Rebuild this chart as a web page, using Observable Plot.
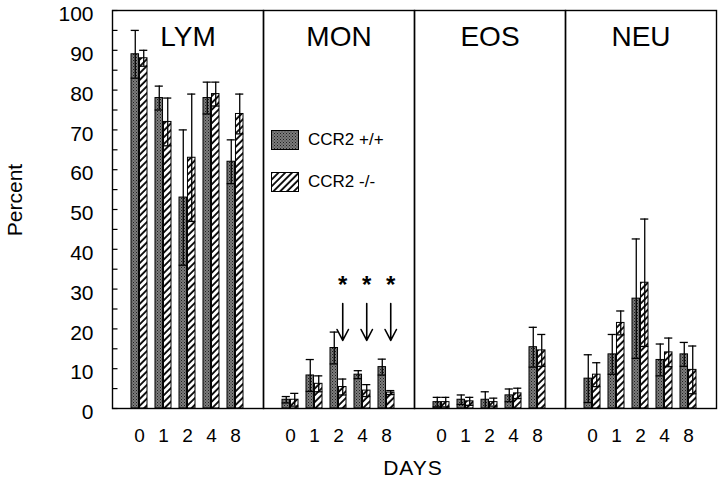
<!DOCTYPE html>
<html><head><meta charset="utf-8">
<script src="https://cdn.jsdelivr.net/npm/d3@7"></script>
<script src="https://cdn.jsdelivr.net/npm/@observablehq/plot@0.6"></script>
<style>
body{margin:0;background:#fff;font-family:"Liberation Sans",Arial,Helvetica,sans-serif;color:#000}
#wrap{position:relative;width:720px;height:483px}
.ov{position:absolute;white-space:nowrap;line-height:1}
.leg{position:absolute;display:flex;align-items:center;font-size:17px}
.leg svg{margin-right:9px}
</style></head><body>
<svg width="0" height="0" style="position:absolute">
<defs>
<pattern id="dots" width="3" height="3" patternUnits="userSpaceOnUse">
<rect width="3" height="3" fill="#7c7c7c"/>
<rect x="0" y="0" width="1" height="1" fill="#1e1e1e"/>
<rect x="1.5" y="1.5" width="1" height="1" fill="#2e2e2e"/>
</pattern>
<pattern id="hatch" width="4.8" height="4.8" patternUnits="userSpaceOnUse" patternTransform="rotate(45)">
<rect width="4.8" height="4.8" fill="#fff"/>
<line x1="1" y1="0" x2="1" y2="4.8" stroke="#000" stroke-width="1.8"/>
</pattern>
</defs>
</svg>
<div id="wrap"></div>
<script>
const cells = ["LYM","MON","EOS","NEU"];
const days = ["0","1","2","4","8"];
const genotypes = ["CCR2 +/+","CCR2 -/-"];
const yLabelTicks = d3.range(0, 101, 10);
const yMinorTicks = d3.range(0, 101, 5);

// mean percent and SD, CCR2 +/+ (wt) and CCR2 -/- (ko)
const lymWt = [89,78,53,78,62];      const lymWtSd = [6,3,17,4,5.5];
const lymKo = [88,72,63,79,74];      const lymKoSd = [2,6,16,3,5];
const monWt = [2.2,8.3,15.2,8.5,10.4]; const monWtSd = [0.8,4,4,1,2];
const monKo = [2.2,6.2,5.4,4.5,4];   const monKoSd = [1.6,2,2,1.5,0.5];
const eosWt = [1.6,2.2,2.2,3.3,15.4]; const eosWtSd = [1.2,1.2,2,1.6,5];
const eosKo = [1.6,1.8,1.6,3.8,14.6]; const eosKoSd = [1.2,1,1,1.3,4];
const neuWt = [7.5,13.6,27.6,12.2,13.6]; const neuWtSd = [6,5,15,4,3];
const neuKo = [8.5,21.5,31.6,14.1,9.7];  const neuKoSd = [3,3,16,3.6,6];

// significant differences (MON, CCR2 -/-)
const sigCell = "MON";
const sigDays = ["2","4","8"];
const arrowFrom = 26.4, arrowTo = 17.1, starAt = 31;

const series = {
  LYM: [lymWt, lymWtSd, lymKo, lymKoSd],
  MON: [monWt, monWtSd, monKo, monKoSd],
  EOS: [eosWt, eosWtSd, eosKo, eosKoSd],
  NEU: [neuWt, neuWtSd, neuKo, neuKoSd]
};
const rows = [];
for (const c of cells) {
  const [w, ws, k, ks] = series[c];
  days.forEach((d, i) => {
    rows.push({cell: c, day: d, geno: genotypes[0], mean: w[i], sd: ws[i]});
    rows.push({cell: c, day: d, geno: genotypes[1], mean: k[i], sd: ks[i]});
  });
}
const wt = rows.filter(r => r.geno === genotypes[0]);
const ko = rows.filter(r => r.geno === genotypes[1]);

// layout
const W = 720, H = 483, mL = 111, mR = 3, mT = 10, mB = 75;
const pIn = 0.32, pOut = 0.7;
const facetW = (W - mL - mR) / cells.length;
const step = facetW / (days.length - pIn + 2 * pOut);
const bw = step * (1 - pIn);
const half = bw / 2, q = bw / 4;
const lo = r => Math.max(0, r.mean - r.sd), hi = r => r.mean + r.sd;

const errMarks = (data, side) => {
  const dx = side * q;
  const ins = side < 0 ? {insetLeft: -0.3, insetRight: half - 0.3} : {insetLeft: half - 0.3, insetRight: -0.3};
  return [
    Plot.ruleX(data, {fx: "cell", x: "day", y1: lo, y2: hi, dx, stroke: "#000", strokeWidth: 1.3}),
    Plot.tickY(data, {fx: "cell", x: "day", y: hi, ...ins, stroke: "#000", strokeWidth: 1.3}),
    Plot.tickY(data.filter(r => r.mean - r.sd > 0.3), {fx: "cell", x: "day", y: lo, ...ins, stroke: "#000", strokeWidth: 1.3})
  ];
};

const plot = Plot.plot({
  width: W, height: H,
  marginLeft: mL, marginRight: mR, marginTop: mT, marginBottom: mB,
  style: {fontFamily: "'Liberation Sans', Arial, Helvetica, sans-serif", color: "#000", background: "transparent", overflow: "visible"},
  fx: {domain: cells, padding: 0, axis: null},
  x: {domain: days, paddingInner: pIn, paddingOuter: pOut, align: 0.5},
  y: {domain: [0, 100]},
  marks: [
    Plot.barY(wt, {fx: "cell", x: "day", y: "mean", fill: "url(#dots)", stroke: "#000", strokeWidth: 1, insetRight: half}),
    Plot.barY(ko, {fx: "cell", x: "day", y: "mean", fill: "url(#hatch)", stroke: "#000", strokeWidth: 1, insetLeft: half}),
    ...errMarks(wt, -1),
    ...errMarks(ko, 1),
    Plot.tickY(yMinorTicks, {fx: () => cells[0], y: d => d, insetRight: facetW - 6, stroke: "#000", strokeWidth: 1.2}),
    Plot.frame({stroke: "#000", strokeWidth: 1.4}),
    Plot.axisY({ticks: yLabelTicks, tickSize: 0, tickPadding: 19, fontSize: 21, dy: 4, label: null}),
    Plot.axisX({tickSize: 0, tickPadding: 20, fontSize: 19, label: null}),
    Plot.text(cells, {fx: d => d, text: d => d, frameAnchor: "top", dy: 27, lineAnchor: "middle", fontSize: 28}),
    Plot.arrow(sigDays, {fx: () => sigCell, x1: d => d, x2: d => d, y1: () => arrowFrom, y2: () => arrowTo, dx: q, stroke: "#000", strokeWidth: 1.6, headLength: 13, headAngle: 55, bend: false}),
    Plot.text(sigDays, {fx: () => sigCell, x: d => d, y: () => starAt, dx: q, text: () => "*", fontSize: 24, fontWeight: "bold"})
  ]
});
const wrap = document.getElementById("wrap");
wrap.appendChild(plot);

function addText(txt, css) {
  const d = document.createElement("div");
  d.className = "ov"; d.textContent = txt;
  Object.assign(d.style, css);
  wrap.appendChild(d);
}
addText("Percent", {left: "14px", top: "200px", fontSize: "21px", transform: "translate(-50%,-50%) rotate(-90deg)"});
addText("DAYS", {left: "413px", top: "467px", fontSize: "21px", letterSpacing: "1px", transform: "translate(-50%,-50%)"});

// legend
const legFills = ["url(#dots)", "url(#hatch)"];
genotypes.forEach((g, i) => {
  const d = document.createElement("div");
  d.className = "leg";
  d.style.left = "271px";
  d.style.top = (130 + i * 42) + "px";
  d.innerHTML = `<svg width="28" height="20"><rect x="0.5" y="0.5" width="27" height="19" fill="${legFills[i]}" stroke="#000" stroke-width="1"/></svg><span>${g}</span>`;
  wrap.appendChild(d);
});
</script>
</body></html>
